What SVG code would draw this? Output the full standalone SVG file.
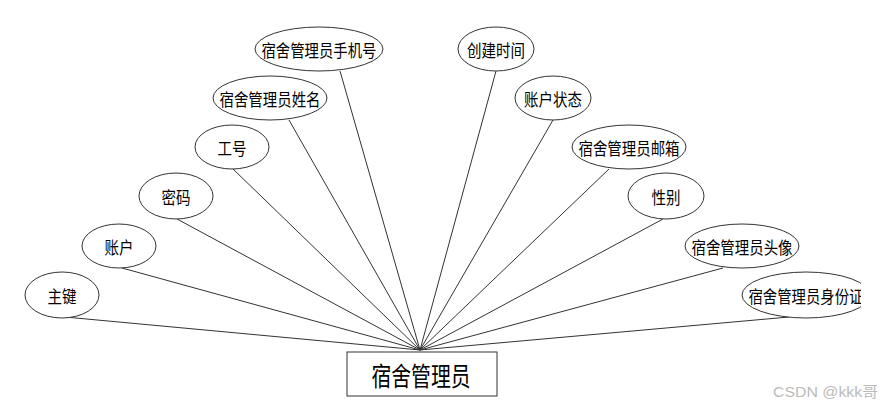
<svg xmlns="http://www.w3.org/2000/svg" width="882" height="406" viewBox="0 0 882 406">
<style>
.e{fill:#fff;stroke:#333;stroke-width:1}
.t{font-family:"Noto Sans CJK SC","Liberation Sans",sans-serif;font-size:17px;fill:#000;text-anchor:middle;dominant-baseline:central}
.c line{stroke:#333;stroke-width:1}
.box{fill:#fff;stroke:#333;stroke-width:1}
.bt{font-family:"Noto Sans CJK SC","Liberation Sans",sans-serif;font-size:26px;fill:#000;text-anchor:middle;dominant-baseline:central}
.wm{font-family:"Liberation Sans","Noto Sans CJK SC",sans-serif;font-size:15px;fill:#bbb}
</style>
<defs><clipPath id="clip"><rect x="0" y="0" width="861" height="406"/></clipPath></defs>
<rect width="882" height="406" fill="#fff"/>
<g class="c" id="connectors">
<line x1="340" y1="71" x2="420" y2="350"/>
<line x1="289" y1="120" x2="420" y2="350"/>
<line x1="233" y1="169" x2="420" y2="350"/>
<line x1="177" y1="219" x2="420" y2="350"/>
<line x1="122" y1="268" x2="420" y2="350"/>
<line x1="65" y1="317" x2="420" y2="350"/>
<line x1="496" y1="71" x2="420" y2="350"/>
<line x1="553" y1="120" x2="420" y2="350"/>
<line x1="609" y1="169" x2="420" y2="350"/>
<line x1="663" y1="219" x2="420" y2="350"/>
<line x1="723" y1="268" x2="420" y2="350"/>
<line x1="789" y1="317" x2="420" y2="350"/>
</g>
<g id="n_phone"><ellipse class="e" cx="319" cy="49" rx="64" ry="22"/><text class="t" x="319" y="49" textLength="115" lengthAdjust="spacingAndGlyphs">宿舍管理员手机号</text></g>
<g id="n_name"><ellipse class="e" cx="270" cy="98" rx="57" ry="22"/><text class="t" x="270" y="98" textLength="101" lengthAdjust="spacingAndGlyphs">宿舍管理员姓名</text></g>
<g id="n_no"><ellipse class="e" cx="232" cy="147" rx="37" ry="22"/><text class="t" x="232" y="147" textLength="29" lengthAdjust="spacingAndGlyphs">工号</text></g>
<g id="n_pwd"><ellipse class="e" cx="176" cy="196" rx="37" ry="23"/><text class="t" x="176" y="196" textLength="29" lengthAdjust="spacingAndGlyphs">密码</text></g>
<g id="n_acc"><ellipse class="e" cx="119" cy="246" rx="37" ry="22"/><text class="t" x="119" y="246" textLength="29" lengthAdjust="spacingAndGlyphs">账户</text></g>
<g id="n_pk"><ellipse class="e" cx="62" cy="295" rx="37" ry="23"/><text class="t" x="62" y="295" textLength="29" lengthAdjust="spacingAndGlyphs">主键</text></g>
<g id="n_ctime"><ellipse class="e" cx="496" cy="49" rx="38" ry="22"/><text class="t" x="496" y="49" textLength="58" lengthAdjust="spacingAndGlyphs">创建时间</text></g>
<g id="n_status"><ellipse class="e" cx="553" cy="98" rx="38" ry="22"/><text class="t" x="553" y="98" textLength="58" lengthAdjust="spacingAndGlyphs">账户状态</text></g>
<g id="n_mail"><ellipse class="e" cx="629" cy="147" rx="57" ry="22"/><text class="t" x="629" y="147" textLength="101" lengthAdjust="spacingAndGlyphs">宿舍管理员邮箱</text></g>
<g id="n_sex"><ellipse class="e" cx="666" cy="196" rx="38" ry="23"/><text class="t" x="666" y="196" textLength="29" lengthAdjust="spacingAndGlyphs">性别</text></g>
<g id="n_avatar"><ellipse class="e" cx="742" cy="246" rx="57" ry="22"/><text class="t" x="742" y="246" textLength="101" lengthAdjust="spacingAndGlyphs">宿舍管理员头像</text></g>
<g id="n_idcard" clip-path="url(#clip)"><ellipse class="e" cx="806" cy="295" rx="64" ry="23"/><text class="t" x="806" y="295" textLength="115" lengthAdjust="spacingAndGlyphs">宿舍管理员身份证</text></g>
<g id="n_main"><rect class="box" x="347" y="352" width="150" height="44"/><text class="bt" x="421" y="374" textLength="99" lengthAdjust="spacingAndGlyphs">宿舍管理员</text></g>
<text class="wm" x="773" y="397" textLength="105" lengthAdjust="spacingAndGlyphs">CSDN @kkk哥</text>
</svg>
